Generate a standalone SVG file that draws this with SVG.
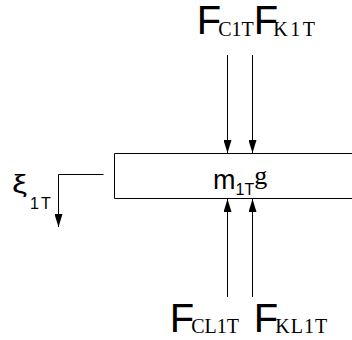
<svg xmlns="http://www.w3.org/2000/svg" width="352" height="340" viewBox="0 0 352 340">
<style>
.ln{stroke:#000;stroke-width:1;fill:none}
.sans{font-family:"Liberation Sans",Arial,sans-serif;fill:#000}
.serif{font-family:"Liberation Serif","Times New Roman",serif;fill:#000}
.big{font-size:40px}
.sub{font-size:20px}
</style>
<defs>
<marker id="ah" viewBox="0 0 13 8" refX="13" refY="4" markerWidth="13" markerHeight="8" orient="auto" markerUnits="userSpaceOnUse">
<path d="M0,0 L13,4 L0,8 Z" fill="#000"/>
</marker>
</defs>
<rect width="352" height="340" fill="#fff"/>
<g id="mass">
<path class="ln" d="M360,153.5 H114.5 V198.5 H360"/>
<text x="213" y="189"><tspan class="sans" font-size="27">m</tspan><tspan class="sans" font-size="16" dy="6">1T</tspan><tspan class="serif" font-size="26" dy="-11">g</tspan></text>
</g>
<g id="FC1T">
<text x="196.8" y="34"><tspan class="sans big">F</tspan><tspan class="serif sub" dx="-3" dy="1.5">C1T</tspan></text>
</g>
<g id="FK1T">
<text x="253.8" y="34"><tspan class="sans big">F</tspan><tspan class="serif sub" dx="-5" dy="1.5" letter-spacing="2.5">K1T</tspan></text>
</g>
<g id="FCL1T">
<text x="169.8" y="332"><tspan class="sans big">F</tspan><tspan class="serif sub" dx="-3" dy="1">CL1T</tspan></text>
</g>
<g id="FKL1T">
<text x="253.8" y="332"><tspan class="sans big">F</tspan><tspan class="serif sub" dx="-3" dy="1" letter-spacing="1">KL1T</tspan></text>
</g>
<g id="xi">
<text class="sans" font-size="26" transform="translate(12,193) scale(1.3,1)">ξ</text>
<text class="sans" font-size="16" x="30" y="209" letter-spacing="2">1T</text>
</g>
<g id="connectors">
<line class="ln" x1="227.5" y1="55" x2="227.5" y2="153" marker-end="url(#ah)"/>
<line class="ln" x1="252.5" y1="55" x2="252.5" y2="153" marker-end="url(#ah)"/>
<line class="ln" x1="227.5" y1="297" x2="227.5" y2="199" marker-end="url(#ah)"/>
<line class="ln" x1="252.5" y1="297" x2="252.5" y2="199" marker-end="url(#ah)"/>
<path class="ln" d="M103.5,174.5 H58.5 V227" marker-end="url(#ah)"/>
</g>
</svg>
